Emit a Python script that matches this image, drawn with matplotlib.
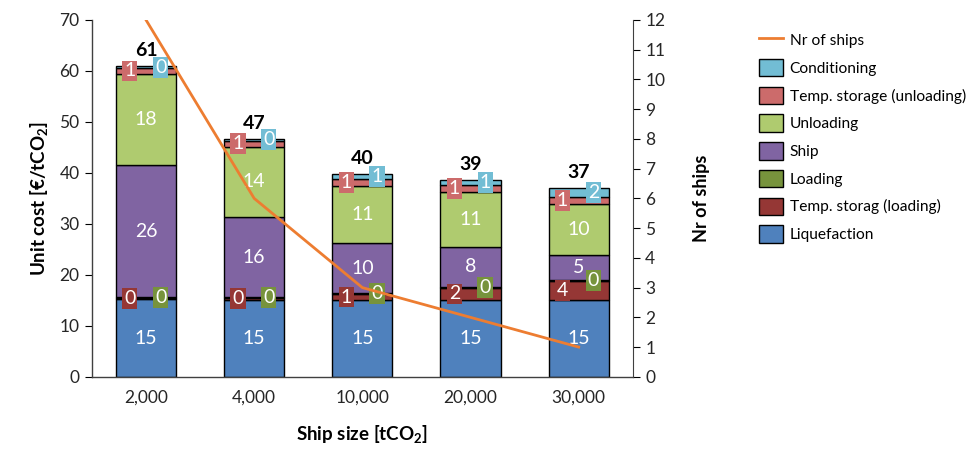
import matplotlib
matplotlib.use("Agg")
import matplotlib.pyplot as plt
import numpy as np
from matplotlib.patches import Patch
from matplotlib.lines import Line2D

plt.rcParams['font.family'] = ['Lato', 'DejaVu Sans']
plt.rcParams['mathtext.fontset'] = 'custom'
plt.rcParams['mathtext.rm'] = 'Lato'
plt.rcParams['mathtext.bf'] = 'Lato:bold'

# Ship sizes (tCO2)
ship_sizes = ["2,000", "4,000", "10,000", "20,000", "30,000"]

# Cost components (EUR/tCO2), stacked bottom to top
liquefaction = [15.2, 15.1, 15.1, 15.1, 15.1]
temp_storage_loading = [0.3, 0.4, 1.1, 2.3, 3.6]
loading = [0.2, 0.1, 0.2, 0.3, 0.3]
ship = [25.8, 15.8, 9.8, 7.8, 4.9]
unloading = [17.9, 13.7, 11.3, 10.7, 10.0]
temp_storage_unloading = [1.2, 1.2, 1.4, 1.4, 1.4]
conditioning = [0.3, 0.4, 0.9, 1.1, 1.8]

# Number of ships required
nr_of_ships = [12, 6, 3, 2, 1]

series = [
    ("Liquefaction", liquefaction, "#4F81BD", "center"),
    ("Temp. storag (loading)", temp_storage_loading, "#953735", "left"),
    ("Loading", loading, "#77933C", "right"),
    ("Ship", ship, "#8064A2", "center"),
    ("Unloading", unloading, "#AFCB6F", "center"),
    ("Temp. storage (unloading)", temp_storage_unloading, "#CC6B6B", "left"),
    ("Conditioning", conditioning, "#72BDD4", "right"),
]

fig = plt.figure(figsize=(9.78, 4.54), dpi=100)
ax = fig.add_axes([0.094, 0.170, 0.553, 0.786])
x = np.arange(len(ship_sizes))
width = 0.556

bottom = np.zeros(len(x))
handles = {}
for name, vals, color, pos in series:
    vals = np.array(vals)
    ax.bar(x, vals, width, bottom=bottom, color=color,
           edgecolor="black", linewidth=1.0, zorder=2)
    handles[name] = Patch(facecolor=color, edgecolor="black", linewidth=1.0)
    for xi, b, v in zip(x, bottom, vals):
        yc = b + v / 2
        txt = f"{int(round(v))}"
        if pos == "center":
            ax.text(xi, yc, txt, ha="center", va="center", color="white",
                    fontsize=14, zorder=5)
        else:
            dx = -0.15 if pos == "left" else 0.135
            ax.text(xi + dx, yc, txt, ha="center", va="center", color="white",
                    fontsize=14, zorder=6,
                    bbox=dict(boxstyle="square,pad=0.1", fc=color, ec="none"))
    bottom = bottom + vals

for xi, tot in zip(x, bottom):
    ax.annotate(f"{int(round(tot))}", (xi, tot), xytext=(0, 5),
                textcoords="offset points", ha="center", va="bottom",
                fontsize=14, fontweight="bold", color="black")

ax.set_xlim(-0.5, 4.5)
ax.set_ylim(0, 70)
ax.set_yticks(range(0, 71, 10))
ax.set_xticks(x)
ax.set_xticklabels(ship_sizes)
ax.tick_params(axis="x", length=0, labelsize=12.5, pad=9, labelcolor="#262626")
ax.tick_params(axis="y", direction="out", length=5, labelsize=12.5,
               colors="black", labelcolor="#262626", pad=4)
for s in ["top", "right"]:
    ax.spines[s].set_visible(False)
for s in ["left", "bottom"]:
    ax.spines[s].set_color("#404040")
    ax.spines[s].set_linewidth(1.0)
ax.set_ylabel(r"Unit cost [€/tCO$_\mathbf{2}$]", fontsize=13.5,
              fontweight="bold", labelpad=6)
ax.set_xlabel(r"Ship size [tCO$_\mathbf{2}$]", fontsize=13.5,
              fontweight="bold", labelpad=13)

ax2 = ax.twinx()
ax2.plot(x, nr_of_ships, color="#ED7D31", linewidth=2.0, zorder=3)
ax2.set_ylim(0, 12)
ax2.set_yticks(range(0, 13))
ax2.tick_params(axis="y", direction="out", length=5, labelsize=12.5,
                colors="black", labelcolor="#262626", pad=4)
for s in ["top", "left", "bottom"]:
    ax2.spines[s].set_visible(False)
ax2.spines["right"].set_color("#404040")
ax2.set_ylabel("Nr of ships", fontsize=13, fontweight="bold", labelpad=20)

legend_handles = [Line2D([0], [0], color="#ED7D31", linewidth=2.0)]
legend_labels = ["Nr of ships"]
for name in ["Conditioning", "Temp. storage (unloading)", "Unloading", "Ship",
             "Loading", "Temp. storag (loading)", "Liquefaction"]:
    legend_handles.append(handles[name])
    legend_labels.append(name)

fig.legend(legend_handles, legend_labels, loc="upper left",
           bbox_to_anchor=(0.770, 0.945), frameon=False, fontsize=11.2,
           handlelength=1.5, handleheight=1.35, handletextpad=0.45,
           labelspacing=0.66, borderaxespad=0)

fig.savefig("out.png", dpi=100)
